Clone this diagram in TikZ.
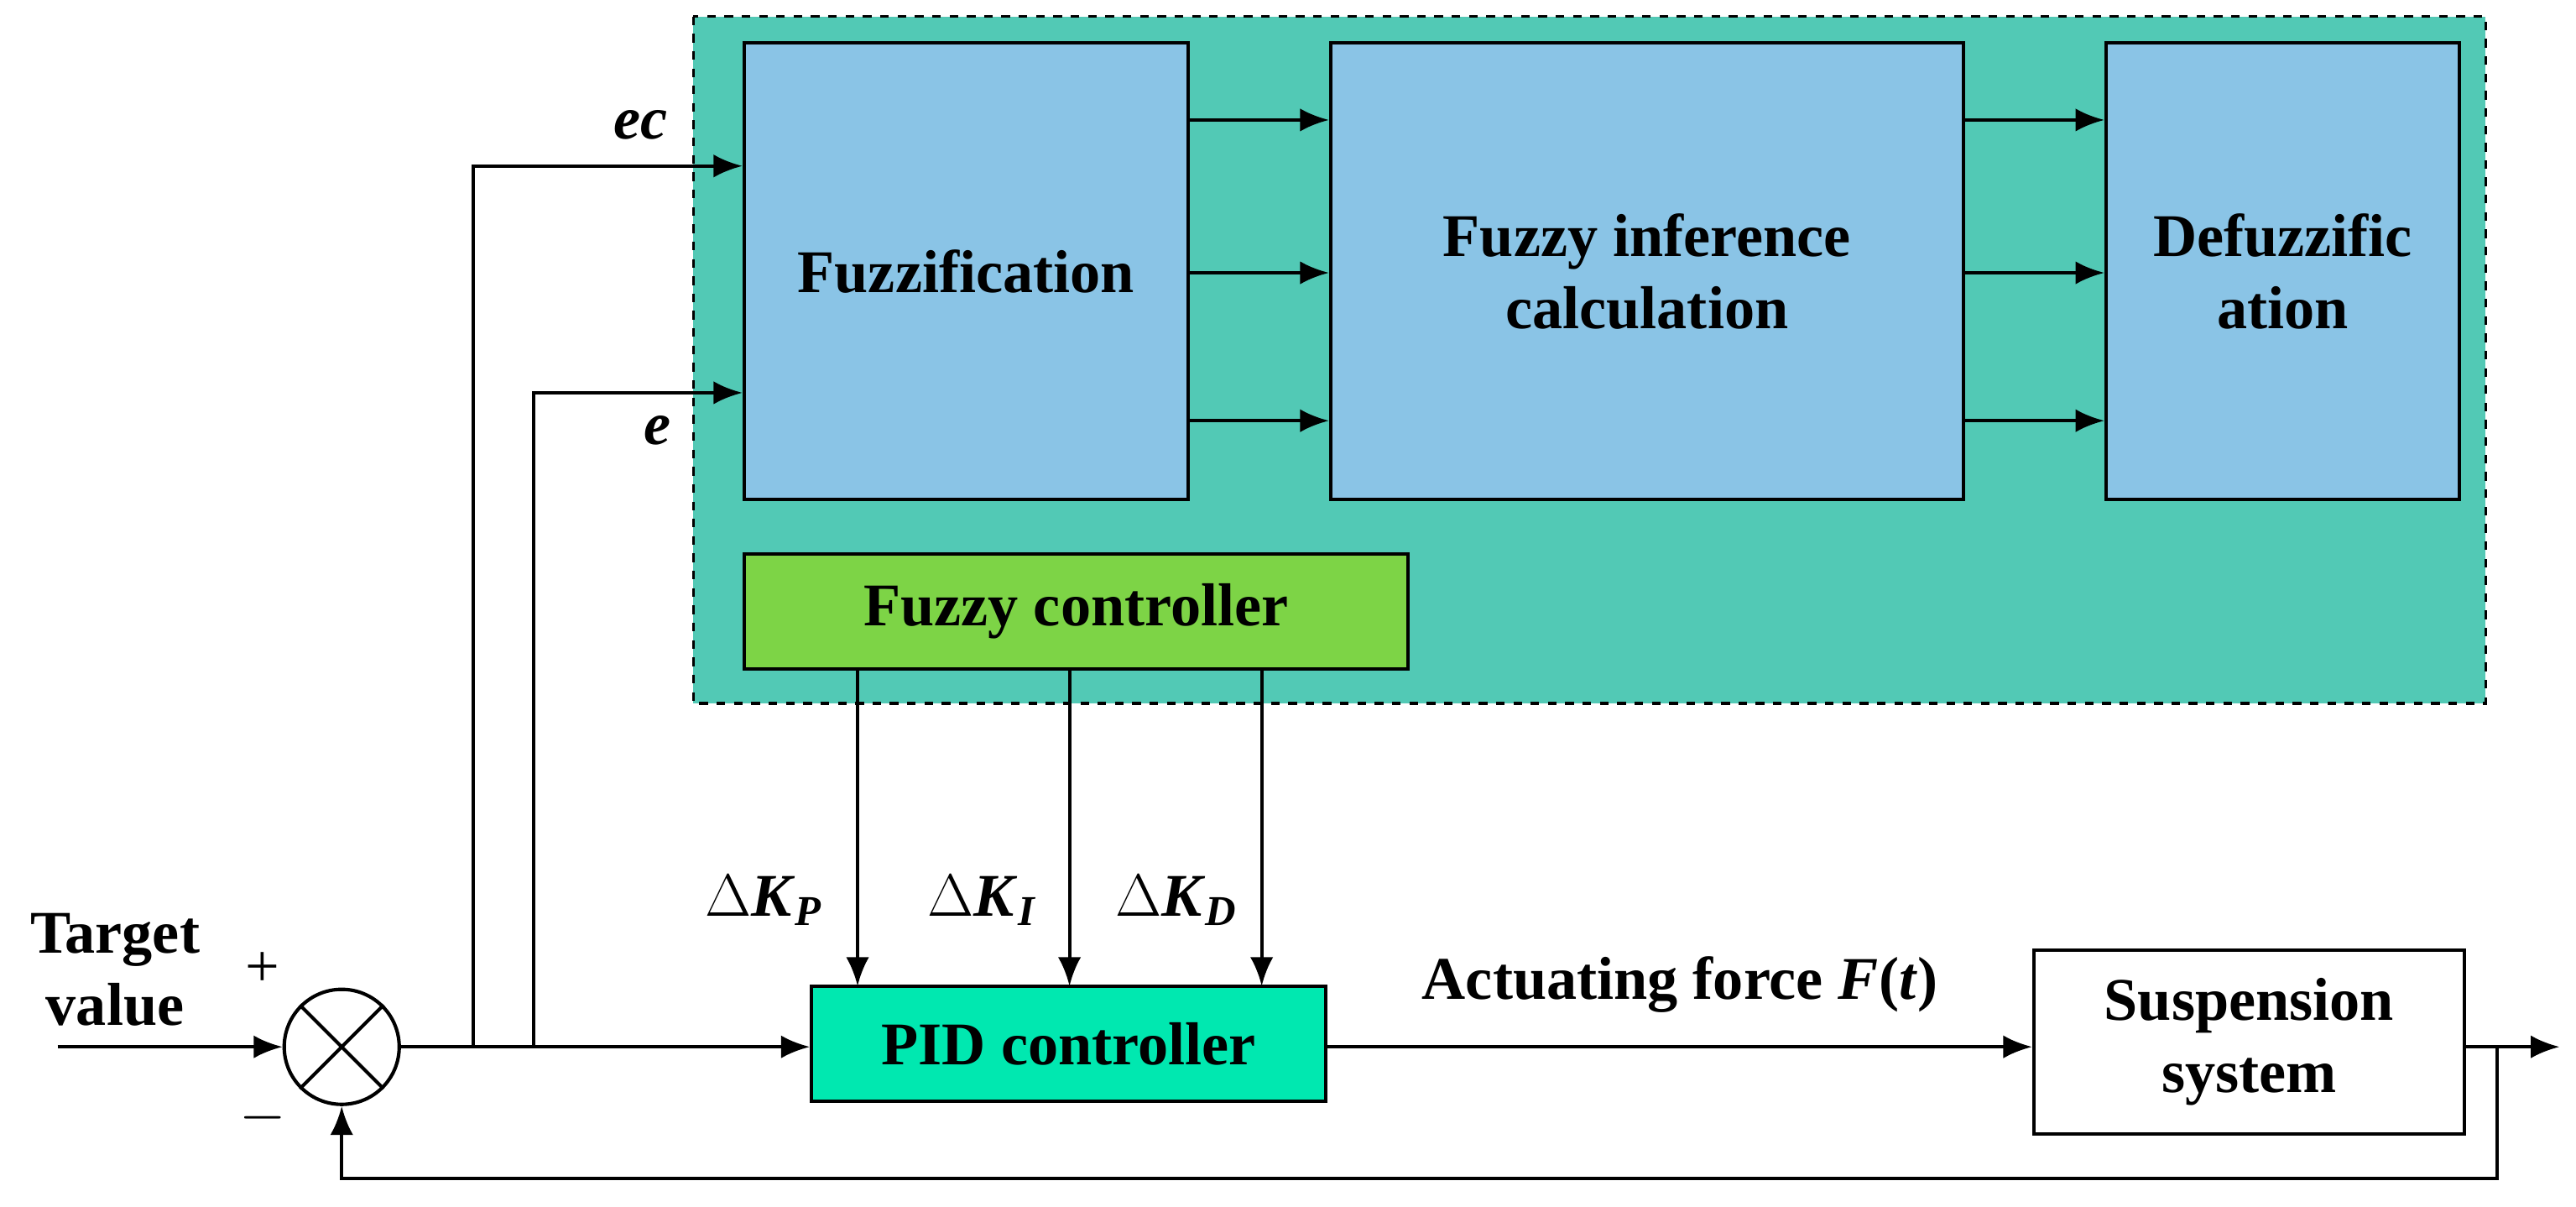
\documentclass[tikz,border=0pt]{standalone}
\usepackage{fontspec}
\setmainfont{Liberation Serif}
\usetikzlibrary{positioning,calc,arrows.meta}
\definecolor{fuzzbg}{HTML}{52C9B5}
\definecolor{blockblue}{HTML}{8AC4E6}
\definecolor{fcgreen}{HTML}{7DD446}
\definecolor{pidgreen}{HTML}{00E8B0}
\tikzset{
  blk/.style={draw, line width=1.2pt, font=\fontsize{21}{25}\selectfont\bfseries, align=center, inner sep=0pt},
  sig/.style={-{Latex[length=10pt,width=8pt]}, line width=1.2pt},
  lbl/.style={font=\fontsize{21}{25}\selectfont\bfseries\itshape},
}
\begin{document}
\begin{tikzpicture}[x=0.02cm,y=-0.02cm]
  \useasboundingbox (0,0) rectangle (1568,734);
  % fuzzy part
  \draw[fill=fuzzbg, dashed, line width=1pt] (422,10) rectangle (1513,428);
  \node[blk, fill=blockblue, minimum width=270*0.02cm, minimum height=278*0.02cm] (fuzz) at (588,165) {Fuzzification};
  \node[blk, fill=blockblue, minimum width=385*0.02cm, minimum height=278*0.02cm] (infer) at (1002.5,165) {Fuzzy inference\\calculation};
  \node[blk, fill=blockblue, minimum width=215*0.02cm, minimum height=278*0.02cm] (defuzz) at (1389.5,165) {Defuzzific\\ation};
  \node[blk, fill=fcgreen, minimum width=404*0.02cm, minimum height=70*0.02cm] (fc) at (655,372) {Fuzzy controller};
  \foreach \yy in {73,166,256} {
    \draw[sig] (fuzz.east |- 0,\yy) -- (infer.west |- 0,\yy);
    \draw[sig] (infer.east |- 0,\yy) -- (defuzz.west |- 0,\yy);
  }
  % main loop
  \node[draw, circle, line width=1.2pt, minimum size=70*0.02cm, inner sep=0pt] (sum) at (208,637) {};
  \draw[line width=1.2pt] (sum.north west) -- (sum.south east) (sum.north east) -- (sum.south west);
  \node[blk, draw=none, align=center] (target) at (70,590) {Target\\value};
  \coordinate (in) at (35,637);
  \node[font=\fontsize{21}{25}\selectfont] (plus) at (160,590) {+};
  \node[font=\fontsize{21}{25}\selectfont] (minus) at (160,680) {$-$};
  \node[blk, fill=pidgreen, minimum width=313*0.02cm, minimum height=70*0.02cm] (pid) at (650.5,635) {PID controller};
  \node[blk, fill=white, minimum width=262*0.02cm, minimum height=112*0.02cm] (susp) at (1369,634) {Suspension\\system};
  \draw[sig] (in) -- (sum);
  \draw[sig] (sum) -- (pid.west |- sum);
  \draw[sig] (pid.east |- sum) -- (susp.west |- sum) node[lbl, font=\fontsize{21}{25}\selectfont\bfseries, pos=0.5, above=8pt] {Actuating force \textit{F}(\textit{t})};
  \coordinate (out) at (1558,637);
  \coordinate (fb) at (1520,637);
  \draw[sig] (susp.east |- sum) -- (out);
  \draw[sig] (fb) -- (1520,717) -- (208,717) -- (sum.south);
  % e and ec
  \draw[sig] (288,637) -- (288,101) -- (fuzz.west |- 0,101) ;
  \draw[sig] (325,637) -- (325,239) -- (fuzz.west |- 0,239);
  \node[lbl] (eclbl) at (390,76) {ec};
  \node[lbl] (elbl) at (400,262) {e};
  % gains
  \foreach \xx/\kk/\lx in {522/P/465, 651/I/598, 768/D/716} {
    \draw[sig] (\xx,407) -- (\xx,600);
    \node[font=\fontsize{21}{25}\selectfont\bfseries] at (\lx,548) {$\Delta$\textit{K}\textsubscript{\textit{\kk}}};
  }
\end{tikzpicture}
\end{document}
